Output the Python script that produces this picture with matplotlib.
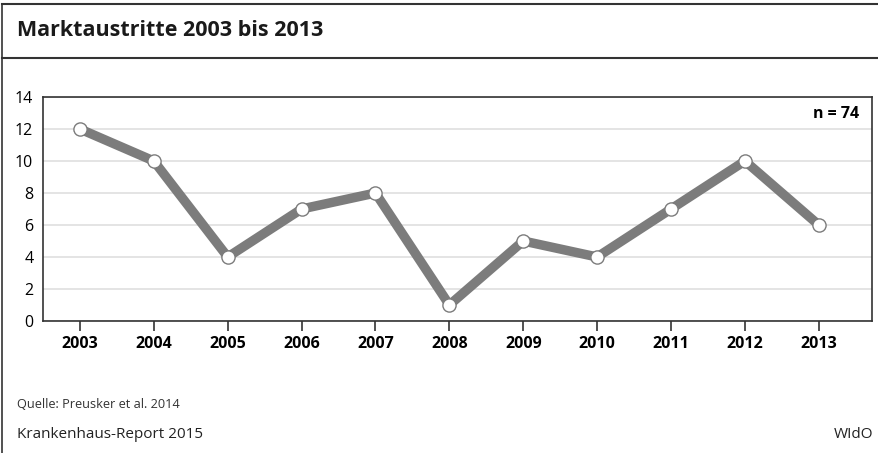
import matplotlib.pyplot as plt
from matplotlib.lines import Line2D

# Data
years = ["2003", "2004", "2005", "2006", "2007", "2008",
         "2009", "2010", "2011", "2012", "2013"]
exits = [12, 10, 4, 7, 8, 1, 5, 4, 7, 10, 6]

W, H = 879, 453
fig = plt.figure(figsize=(W / 100, H / 100), dpi=100)
plt.rcParams["font.family"] = ["Open Sans", "DejaVu Sans"]

# Frame lines (top, below title, left edge)
fig.add_artist(Line2D([2 / W, 1], [1 - 4 / H, 1 - 4 / H], color="#333333", lw=1.5))
fig.add_artist(Line2D([2 / W, 1], [1 - 58 / H, 1 - 58 / H], color="#333333", lw=1.5))
fig.add_artist(Line2D([2 / W, 2 / W], [0, 1 - 4 / H], color="#333333", lw=1.2))

fig.text(17 / W, 1 - 31 / H, "Marktaustritte 2003 bis 2013",
         fontsize=15.5, fontweight="bold", va="center", ha="left", color="#1a1a1a")

# Plot area
ax = fig.add_axes([43 / W, 1 - 321 / H, (872 - 43) / W, (321 - 97) / H])
x = list(range(len(years)))
ax.plot(x, exits, color="#7c7c7c", lw=6.8, solid_joinstyle="miter", zorder=3)
ax.plot(x, exits, ls="none", marker="o", ms=9.5, mfc="white",
        mec="#7c7c7c", mew=1, zorder=4)

ax.set_xlim(-0.5, 10.72)
ax.set_ylim(0, 14)
ax.set_yticks(range(0, 15, 2))
ax.set_xticks(x)
ax.set_xticklabels(years, fontweight="bold", fontsize=11.5)
ax.tick_params(axis="y", length=0, labelsize=11.5, pad=7)
ax.tick_params(axis="x", length=7, width=1.2, color="#333333", pad=4)
ax.grid(axis="y", color="#dddddd", lw=1.1)
ax.set_axisbelow(True)
for s in ax.spines.values():
    s.set_color("#333333")
    s.set_linewidth(1.2)

ax.text(0.985, 0.925, "n = 74", transform=ax.transAxes, ha="right", va="center",
        fontweight="bold", fontsize=11.5)

# Footer
fig.text(17 / W, 1 - 405 / H, "Quelle: Preusker et al. 2014", fontsize=9.2,
         va="center", ha="left", color="#333333")
fig.text(17 / W, 1 - 434 / H, "Krankenhaus-Report 2015", fontsize=11,
         va="center", ha="left", color="#222222")
fig.text(873 / W, 1 - 434 / H, "WIdO", fontsize=11,
         va="center", ha="right", color="#222222")

fig.savefig("out.png", dpi=100)
